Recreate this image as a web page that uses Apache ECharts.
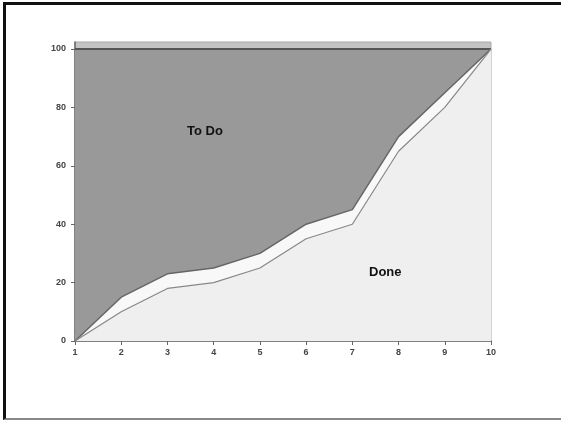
<!DOCTYPE html>
<html><head><meta charset="utf-8">
<script src="https://cdn.jsdelivr.net/npm/echarts@6/dist/echarts.min.js"></script>
<style>
html,body{margin:0;padding:0;background:#fff;}
#frame{position:absolute;left:3px;top:2px;width:558px;height:418px;border-top:3px solid #111;border-left:3px solid #111;border-bottom:2px solid #888;box-sizing:border-box;}
#c{position:absolute;left:0;top:0;width:561px;height:422px;}
</style></head>
<body>
<div id="c"></div>
<div id="frame"></div>
<script>
const categories = ['1','2','3','4','5','6','7','8','9','10'];
const doneValues = [0, 10, 18, 20, 25, 35, 40, 65, 80, 100];
const upperValues = [0, 15, 23, 25, 30, 40, 45, 70, 85, 100];
const totalValues = [100, 100, 100, 100, 100, 100, 100, 100, 100, 100];
const yTicks = [0, 20, 40, 60, 80, 100];

const chart = echarts.init(document.getElementById('c'), null, {renderer:'canvas'});
const font = 'Liberation Sans, Arial, sans-serif';
chart.setOption({
  animation:false,
  backgroundColor:'#fff',
  grid:{left:75,right:70,top:42,bottom:81,show:true,backgroundColor:'#c4c4c4',borderColor:'#aaa',borderWidth:1},
  xAxis:{type:'category',data:categories,boundaryGap:false,
    axisLine:{lineStyle:{color:'#666',width:1.5}},
    axisTick:{show:true,length:4,lineStyle:{color:'#666'}},
    axisLabel:{fontFamily:font,fontSize:9,color:'#444',fontWeight:'bold',margin:7},
    splitLine:{show:false}},
  yAxis:{type:'value',min:0,max:102.4,interval:20,
    axisLine:{show:true,lineStyle:{color:'#666',width:1.5}},
    axisTick:{show:true,length:4,customValues:yTicks,lineStyle:{color:'#666'}},
    axisLabel:{fontFamily:font,fontSize:9,color:'#444',fontWeight:'bold',margin:9,customValues:yTicks},
    splitLine:{show:false}},
  series:[
    {type:'line',data:totalValues,symbol:'none',z:2,
      lineStyle:{color:'#555',width:2},areaStyle:{color:'#999999',opacity:1,origin:'start'}},
    {type:'line',data:upperValues,symbol:'none',z:3,
      lineStyle:{color:'#666',width:1.5},areaStyle:{color:'#f8f8f8',opacity:1,origin:'start'}},
    {type:'line',data:doneValues,symbol:'none',z:4,
      lineStyle:{color:'#888',width:1.2},areaStyle:{color:'#efefef',opacity:1,origin:'start'}}
  ],
  graphic:[
    {type:'text',left:187,top:125,z:100,style:{text:'To Do',font:'bold 13px '+font,fill:'#111'}},
    {type:'text',left:369,top:266,z:100,style:{text:'Done',font:'bold 13px '+font,fill:'#111'}}
  ]
});
</script>
</body></html>
